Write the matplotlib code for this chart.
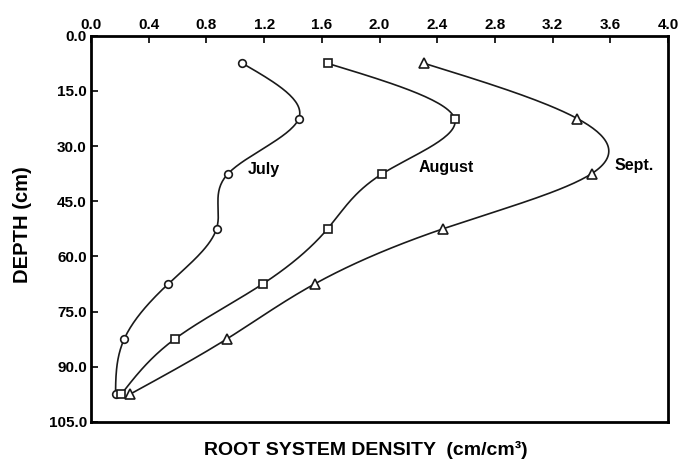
import numpy as np
import matplotlib
matplotlib.use("Agg")
import matplotlib.pyplot as plt

plt.rcParams['font.family'] = ['Liberation Sans', 'DejaVu Sans']
plt.rcParams['font.weight'] = 'bold'

depth = [7.5, 22.5, 37.5, 52.5, 67.5, 82.5, 97.5]
july = [1.05, 1.44, 0.95, 0.87, 0.535, 0.23, 0.17]
august = [1.64, 2.52, 2.02, 1.64, 1.19, 0.58, 0.21]
sept = [2.31, 3.37, 3.47, 2.44, 1.55, 0.94, 0.27]

series = [
    ('July', july, 'o', (1.085, 36.3)),
    ('August', august, 's', (2.27, 35.7)),
    ('Sept.', sept, '^', (3.63, 35.4)),
]


def smooth(xs, ys, n=200):
    # natural cubic spline of x as a function of depth
    y = np.asarray(ys, float)
    x = np.asarray(xs, float)
    k = len(y)
    h = np.diff(y)
    A = np.zeros((k, k))
    b = np.zeros(k)
    A[0, 0] = A[-1, -1] = 1
    for i in range(1, k - 1):
        A[i, i - 1] = h[i - 1]
        A[i, i] = 2 * (h[i - 1] + h[i])
        A[i, i + 1] = h[i]
        b[i] = 6 * ((x[i + 1] - x[i]) / h[i] - (x[i] - x[i - 1]) / h[i - 1])
    M = np.linalg.solve(A, b)
    yy = np.linspace(y[0], y[-1], n)
    idx = np.clip(np.searchsorted(y, yy) - 1, 0, k - 2)
    t0 = y[idx + 1] - yy
    t1 = yy - y[idx]
    hi = h[idx]
    xx = (M[idx] * t0**3 / (6 * hi) + M[idx + 1] * t1**3 / (6 * hi)
          + (x[idx] / hi - M[idx] * hi / 6) * t0
          + (x[idx + 1] / hi - M[idx + 1] * hi / 6) * t1)
    return xx, yy


fig = plt.figure(figsize=(6.79, 4.59), dpi=100)
ax = fig.add_axes([0.134, 0.081, 0.850, 0.841])

for name, vals, mk, (tx, ty) in series:
    sx, sy = smooth(vals, depth)
    ax.plot(sx, sy, color='#1a1a1a', lw=1.2)
    ax.plot(vals, depth, linestyle='none', marker=mk,
            ms=6.5 if mk == '^' else 5.5,
            mfc='white', mec='#1a1a1a', mew=1.2)
    ax.text(tx, ty, name, fontsize=11.5, fontweight='bold', ha='left', va='center')

ax.set_xlim(0, 4.0)
ax.set_ylim(105, 0)
ax.set_xticks(np.arange(0, 4.01, 0.4))
ax.set_xticklabels(['%.1f' % v for v in np.arange(0, 4.01, 0.4)])
ax.set_yticks(np.arange(0, 105.1, 15))
ax.set_yticklabels(['%.1f' % v for v in np.arange(0, 105.1, 15)])
ax.xaxis.tick_top()
ax.tick_params(direction='in', length=5, width=1.2, labelsize=11, pad=3)
for lab in ax.get_xticklabels() + ax.get_yticklabels():
    lab.set_fontweight('bold')
for s in ax.spines.values():
    s.set_linewidth(2)

fig.text(0.033, 0.51, 'DEPTH (cm)', fontsize=14.5, fontweight='bold',
         rotation=90, ha='center', va='center')
fig.text(0.539, 0.02, 'ROOT SYSTEM DENSITY  (cm/cm\u00b3)', fontsize=14,
         fontweight='bold', ha='center', va='center')

fig.savefig('out.png', dpi=100)
